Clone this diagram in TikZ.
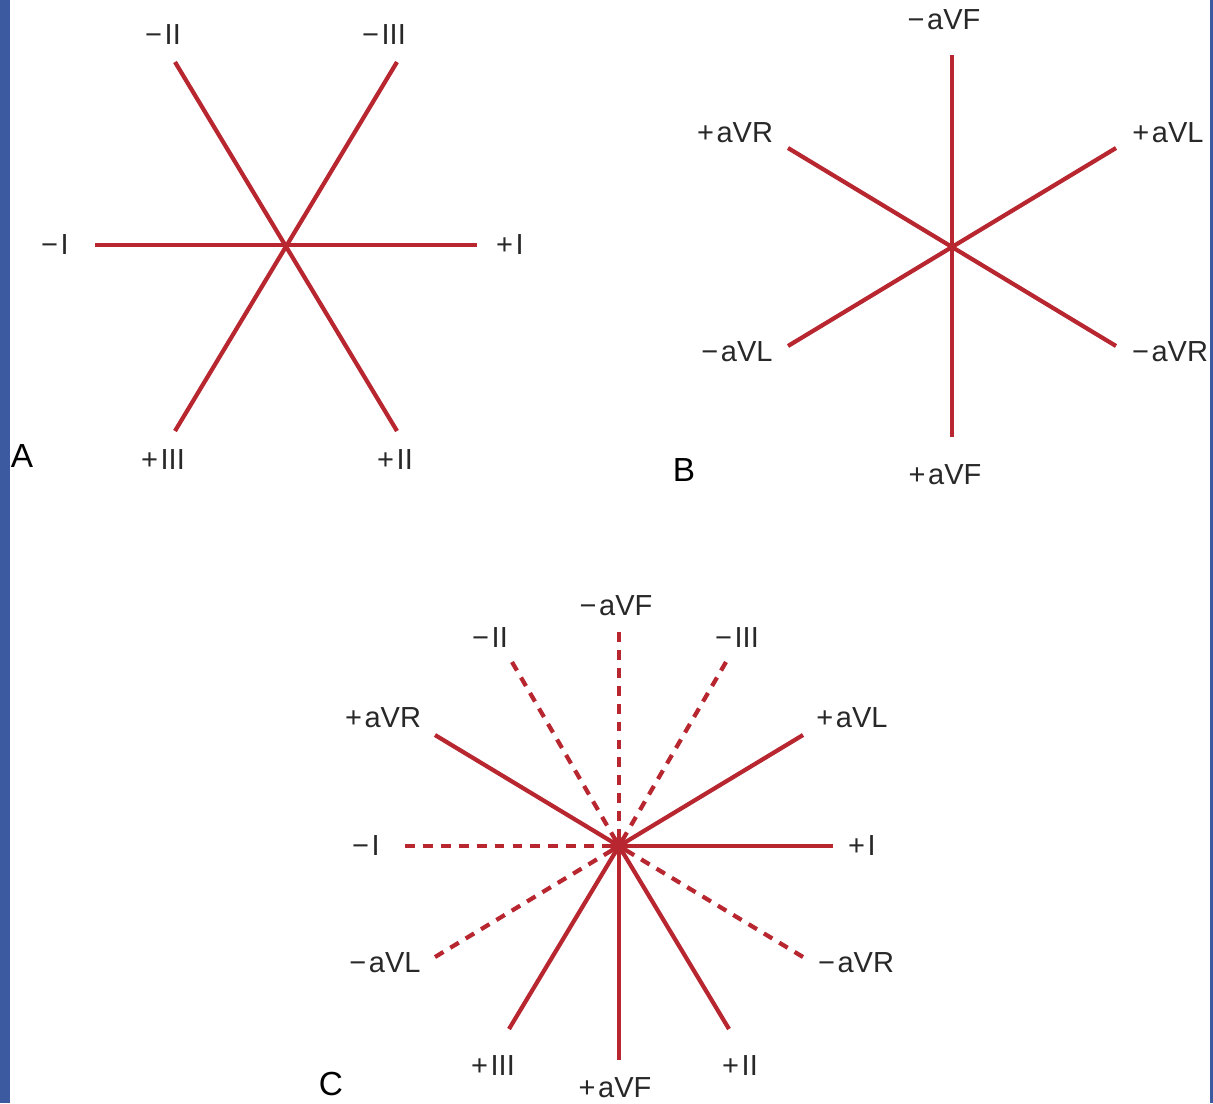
\documentclass[tikz,border=0pt]{standalone}
\usepackage{fontspec}
\setmainfont{Liberation Sans}
\usepackage{tikz}
\definecolor{leadred}{RGB}{184,38,48}
\definecolor{frameblue}{RGB}{60,90,160}
\definecolor{labelgray}{RGB}{40,40,40}
\tikzset{
  lead/.style={leadred, line width=2.4pt},
  neglead/.style={leadred, line width=2.4pt, dash pattern=on 5.6pt off 4.6pt},
  hub/.style={circle, fill=leadred, inner sep=0pt, minimum size=10pt},
  lbl/.style={font=\fontsize{16.5}{16.5}\selectfont, text=labelgray},
  panel/.style={font=\fontsize{19}{19}\selectfont}
}
\newcommand{\pos}{+\kern1.5pt}
\newcommand{\negt}{−\kern1.5pt}

\begin{document}
\begin{tikzpicture}[x=0.02cm,y=-0.02cm]
\useasboundingbox (0,0) rectangle (1213,1103);
\fill[white] (0,0) rectangle (1213,1103);
\fill[frameblue] (0,0) rectangle (10,1103);
\fill[frameblue] (1210,0) rectangle (1213,1103);

% A
\coordinate (oa) at (285,245);
\coordinate (ai+) at (477,245);
\coordinate (ai-) at (95,245);
\coordinate (aii+) at (397,431);
\coordinate (aii-) at (175,62);
\coordinate (aiii+) at (175,431);
\coordinate (aiii-) at (397,62);
\draw[lead] (ai-) -- (ai+);
\draw[lead] (aii-) -- (aii+);
\draw[lead] (aiii-) -- (aiii+);
\node[lbl] (tai-) at (55,245) {\negt I};
\node[lbl] (tai+) at (510,245) {\pos I};
\node[lbl] (taii-) at (163,35) {\negt II};
\node[lbl] (taiii-) at (384,35) {\negt III};
\node[lbl] (taiii+) at (163,460) {\pos III};
\node[lbl] (taii+) at (395,460) {\pos II};
\node[panel] (pa) at (22,456) {A};

% B
\coordinate (ob) at (952,245);
\coordinate (baVF-) at (952,55);
\coordinate (baVF+) at (952,437);
\coordinate (baVR+) at (788,148);
\coordinate (baVR-) at (1116,346);
\coordinate (baVL+) at (1116,148);
\coordinate (baVL-) at (788,346);
\draw[lead] (baVF-) -- (baVF+);
\draw[lead] (baVR+) -- (baVR-);
\draw[lead] (baVL+) -- (baVL-);
\node[lbl] (tbaVF-) at (944,20) {\negt aVF};
\node[lbl] (tbaVR+) at (735,133) {\pos aVR};
\node[lbl] (tbaVL+) at (1168,133) {\pos aVL};
\node[lbl] (tbaVL-) at (737,352) {\negt aVL};
\node[lbl] (tbaVR-) at (1170,352) {\negt aVR};
\node[lbl] (tbaVF+) at (945,475) {\pos aVF};
\node[panel] (pb) at (684,470) {B};

% C
\coordinate (oc) at (619,846);
\coordinate (ci+) at (833,846);
\coordinate (ci-) at (405,846);
\coordinate (caVL+) at (803,735);
\coordinate (caVL-) at (435,957);
\coordinate (caVR+) at (435,735);
\coordinate (caVR-) at (803,957);
\coordinate (caVF+) at (619,1060);
\coordinate (caVF-) at (619,632);
\coordinate (cii+) at (729,1029);
\coordinate (cii-) at (512,662);
\coordinate (ciii+) at (509,1029);
\coordinate (ciii-) at (726,662);
\draw[neglead] (ci-) -- (oc);
\draw[neglead] (caVL-) -- (oc);
\draw[neglead] (caVR-) -- (oc);
\draw[neglead] (caVF-) -- (oc);
\draw[neglead] (cii-) -- (oc);
\draw[neglead] (ciii-) -- (oc);
\draw[lead] (oc) -- (ci+);
\draw[lead] (oc) -- (caVL+);
\draw[lead] (oc) -- (caVR+);
\draw[lead] (oc) -- (caVF+);
\draw[lead] (oc) -- (cii+);
\draw[lead] (oc) -- (ciii+);
\node[hub] (hubc) at (oc) {};
\node[lbl] (tcaVF-) at (616,606) {\negt aVF};
\node[lbl] (tcii-) at (490,638) {\negt II};
\node[lbl] (tciii-) at (737,638) {\negt III};
\node[lbl] (tcaVR+) at (383,718) {\pos aVR};
\node[lbl] (tcaVL+) at (852,718) {\pos aVL};
\node[lbl] (tci-) at (366,846) {\negt I};
\node[lbl] (tci+) at (862,846) {\pos I};
\node[lbl] (tcaVL-) at (385,963) {\negt aVL};
\node[lbl] (tcaVR-) at (856,963) {\negt aVR};
\node[lbl] (tciii+) at (493,1066) {\pos III};
\node[lbl] (tcaVF+) at (615,1088) {\pos aVF};
\node[lbl] (tcii+) at (740,1066) {\pos II};
\node[panel] (pc) at (331,1084) {C};
\end{tikzpicture}
\end{document}
